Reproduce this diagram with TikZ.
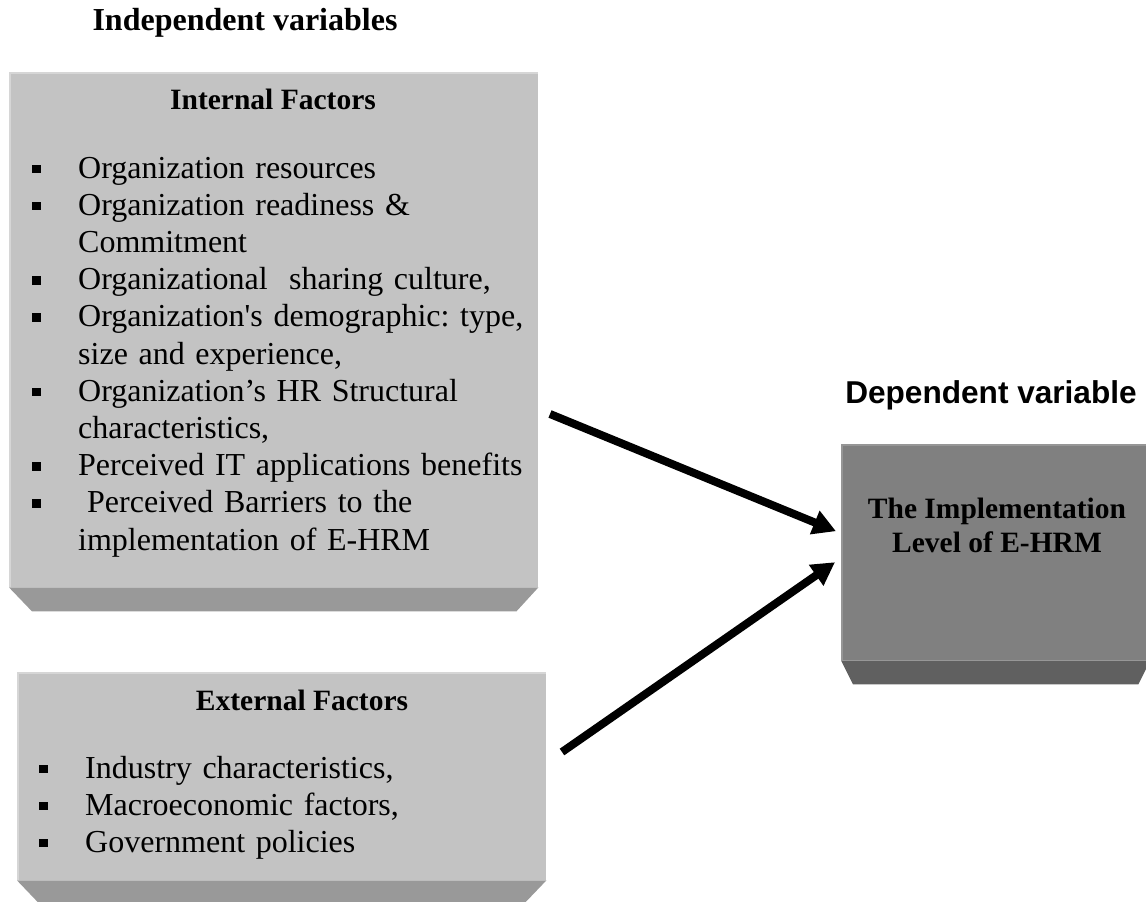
\documentclass[tikz,border=0pt]{standalone}
\usepackage{fontspec}
\setmainfont{Liberation Serif}
\newfontfamily\arialfont{Liberation Sans}
\usetikzlibrary{calc}
\usetikzlibrary{arrows.meta}
\definecolor{faceLightColor}{RGB}{195,195,195}
\definecolor{baseLightColor}{RGB}{153,153,153}
\definecolor{faceDarkColor}{RGB}{128,128,128}
\definecolor{baseDarkColor}{RGB}{96,96,96}
\definecolor{edgeLightColor}{RGB}{214,214,214}
\definecolor{edgeDarkColor}{RGB}{150,150,150}
\newcommand{\sqitem}[2]{\hangindent=#1\hangafter=1\noindent\makebox[#1][l]{\rule[5pt]{8.5pt}{8.5pt}}#2\par}
\newcommand{\itembreak}{\hfil\break}
\tikzset{
	faceLight/.style = {
		fill = faceLightColor, inner sep = 0pt, anchor = north west
	},
	faceDark/.style = {
		fill = faceDarkColor, inner sep = 0pt, anchor = north west
	},
	baseLight/.style = {
		fill = baseLightColor
	},
	baseDark/.style = {
		fill = baseDarkColor
	},
	bodyText/.style = {
		inner sep = 0pt, anchor = base west,
		font = \fontsize{32}{37.2}\selectfont\frenchspacing
	},
	headText/.style = {
		inner sep = 0pt, anchor = base,
		font = \fontsize{29.5}{34}\selectfont\bfseries
	},
	influence/.style = {
		-{Triangle[length=23pt, width=24pt]}, line width = 8pt, black
	}
}

\begin{document}
\begin{tikzpicture}[x=1pt, y=1pt]
	\useasboundingbox (0,0) rectangle (1146,-902);

	% boxes
	\node [faceLight, minimum width=529pt, minimum height=515pt] (internal) at (9,-72) {};
	\fill [baseLight] (internal.south west) -- (internal.south east) -- ++(-22,-24) -- ($(internal.south west)+(23,-24)$) -- cycle;
	\draw [edgeLightColor, line width=2pt] ($(internal.south west)+(1,0)$) -- ($(internal.north west)+(1,-1)$) -- ($(internal.north east)+(0,-1)$);

	\node [faceLight, minimum width=529pt, minimum height=208pt] (external) at (17,-672) {};
	\fill [baseLight] (external.south west) -- (external.south east) -- ++(-22,-23) -- ($(external.south west)+(22,-23)$) -- cycle;
	\draw [edgeLightColor, line width=2pt] ($(external.south west)+(1,0)$) -- ($(external.north west)+(1,-1)$) -- ($(external.north east)+(0,-1)$);

	\node [faceDark, minimum width=309pt, minimum height=216pt] (impl) at (841,-444) {};
	\fill [baseDark] (impl.south west) -- (impl.south east) -- ++(-12,-24) -- ($(impl.south west)+(12,-24)$) -- cycle;
	\draw [edgeDarkColor, line width=2pt] ($(impl.south west)+(1,0)$) -- ($(impl.north west)+(1,-1)$) -- ($(impl.north east)+(0,-1)$);

	% titles
	\node [headText, font=\fontsize{32}{36}\selectfont\bfseries] (indepTitle) at (245,-30) {Independent variables};
	\node [headText, font=\fontsize{31.6}{36}\selectfont\arialfont\bfseries] (depTitle) at (991,-403) {Dependent variable};
	\node [headText] (internalTitle) at (273,-109) {Internal Factors};
	\node [headText] (externalTitle) at (302,-710) {External Factors};
	\node [headText, align=center] (implTitle) at (997,-552) {The Implementation\\Level of E-HRM};

	% factor lists
	\node [bodyText, text width=500pt] (internalList) at (32,-178) {%
		\raggedright
		\sqitem{46pt}{Organization resources}
		\sqitem{46pt}{Organization readiness \&\itembreak Commitment}
		\sqitem{46pt}{Organizational\ \ sharing culture,}
		\sqitem{46pt}{Organization\textquotesingle s demographic: type,\itembreak size and experience,}
		\sqitem{46pt}{Organization’s HR Structural\itembreak characteristics,}
		\sqitem{46pt}{Perceived IT applications benefits}
		\sqitem{46pt}{\hspace{9pt}Perceived Barriers to the\itembreak implementation of E-HRM}};
	\node [bodyText, text width=500pt] (externalList) at (39,-778) {%
		\raggedright
		\sqitem{46pt}{Industry characteristics,}
		\sqitem{46pt}{Macroeconomic factors,}
		\sqitem{46pt}{Government policies}};

	% influences
	\coordinate (internalTail) at (550,-414);
	\coordinate (externalTail) at (562,-752);
	\draw [influence] (internalTail) -- ($(impl.west)+(-5,21)$);
	\draw [influence] (externalTail) -- ($(impl.west)+(-6,-10)$);
\end{tikzpicture}
\end{document}
